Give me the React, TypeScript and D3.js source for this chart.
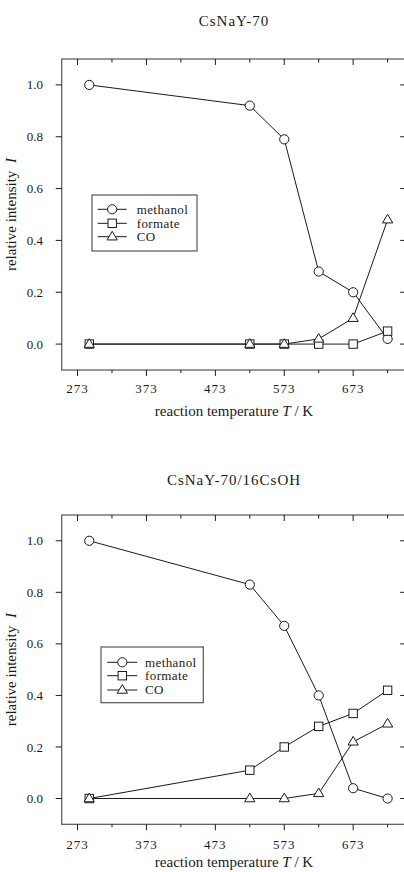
import React from "react";
import * as d3 from "d3";

// Reaction temperatures (K) at which spectra were recorded
const temperatures = [290, 523, 573, 623, 673, 723];

// Panel 1: CsNaY-70
const methanolA = [1.0, 0.92, 0.79, 0.28, 0.2, 0.02];
const formateA = [0, 0, 0, 0, 0, 0.05];
const coA = [0, 0, 0, 0.02, 0.1, 0.48];

// Panel 2: CsNaY-70/16CsOH
const methanolB = [1.0, 0.83, 0.67, 0.4, 0.04, 0.0];
const formateB = [0, 0.11, 0.2, 0.28, 0.33, 0.42];
const coB = [0, 0, 0, 0.02, 0.22, 0.29];

const xMajorTicks = [273, 373, 473, 573, 673];
const xMinorTicks = [323, 423, 523, 623, 723];
const yTicks = [0, 0.2, 0.4, 0.6, 0.8, 1.0];
const seriesNames = ["methanol", "formate", "CO"];

const FONT = "'Liberation Serif', 'DejaVu Serif', serif";
const INK = "#1a1a1a";
const FRAME = "#555";

type Shape = "circle" | "square" | "triangle";
const shapes: Shape[] = ["circle", "square", "triangle"];

function Marker({ shape, x, y }: { shape: Shape; x: number; y: number }) {
  const common = { fill: "#fff", stroke: INK, strokeWidth: 1 };
  if (shape === "circle") return <circle cx={x} cy={y} r={4.6} {...common} />;
  if (shape === "square")
    return <rect x={x - 4.2} y={y - 4.2} width={8.4} height={8.4} {...common} />;
  const s = 5.4;
  const pts = [
    [x, y - s],
    [x - s * 0.95, y + s * 0.6],
    [x + s * 0.95, y + s * 0.6],
  ]
    .map((p) => p.join(","))
    .join(" ");
  return <polygon points={pts} {...common} />;
}

interface PanelProps {
  title: string;
  titleY: number;
  top: number;
  bottom: number;
  series: number[][];
  legend: { x0: number; y0: number; x1: number; y1: number; rows: number[]; lineX0: number; lineX1: number; textX: number };
  tickLabelY: number;
  axisLabelY: number;
}

function Panel({ title, titleY, top, bottom, series, legend, tickLabelY, axisLabelY }: PanelProps) {
  const left = 61.7;
  const right = 406.2;
  const x = d3.scaleLinear().domain([250, 750]).range([left, right]);
  const y = d3.scaleLinear().domain([-0.1, 1.1]).range([bottom, top]);
  const line = d3
    .line<number>()
    .x((_, i) => x(temperatures[i]))
    .y((v) => y(v));
  const midY = (top + bottom) / 2;

  return (
    <g>
      <text
        x={234}
        y={titleY}
        textAnchor="middle"
        fontFamily={FONT}
        fontSize={15}
        letterSpacing={1}
        fill={INK}
      >
        {title}
      </text>

      {/* frame */}
      <rect x={left} y={top} width={right - left} height={bottom - top} fill="none" stroke={FRAME} strokeWidth={1.2} />

      {/* x ticks: outward on bottom, inward on top */}
      {xMajorTicks.map((t) => (
        <g key={"M" + t}>
          <line x1={x(t)} x2={x(t)} y1={bottom} y2={bottom + 6} stroke={INK} />
          <line x1={x(t)} x2={x(t)} y1={top} y2={top + 6} stroke={INK} />
          <text
            x={x(t)}
            y={tickLabelY}
            textAnchor="middle"
            fontFamily={FONT}
            fontSize={13}
            letterSpacing={1}
            fill={INK}
          >
            {t}
          </text>
        </g>
      ))}
      {xMinorTicks.map((t) => (
        <g key={"m" + t}>
          <line x1={x(t)} x2={x(t)} y1={bottom} y2={bottom + 3} stroke={INK} />
          <line x1={x(t)} x2={x(t)} y1={top} y2={top + 3.5} stroke={INK} />
        </g>
      ))}

      {/* y ticks: outward on left, inward on right */}
      {yTicks.map((t) => (
        <g key={"y" + t}>
          <line x1={left - 6} x2={left} y1={y(t)} y2={y(t)} stroke={INK} />
          <line x1={right - 6} x2={right} y1={y(t)} y2={y(t)} stroke={INK} />
          <text
            x={43}
            y={y(t)}
            dy="0.35em"
            textAnchor="end"
            fontFamily={FONT}
            fontSize={13}
            fill={INK}
          >
            {d3.format(".1f")(t)}
          </text>
        </g>
      ))}

      <text
        transform={`translate(16,${midY}) rotate(-90)`}
        textAnchor="middle"
        fontFamily={FONT}
        fontSize={15}
        fill={INK}
      >
        relative intensity{"  "}
        <tspan fontStyle="italic" dx={4}>I</tspan>
      </text>

      <text x={234} y={axisLabelY} textAnchor="middle" fontFamily={FONT} fontSize={15} fill={INK}>
        reaction temperature <tspan fontStyle="italic">T</tspan> / K
      </text>

      {/* series */}
      {series.map((s, si) => (
        <path key={"l" + si} d={line(s) || ""} fill="none" stroke={INK} strokeWidth={1} />
      ))}
      {series.map((s, si) =>
        s.map((v, i) => <Marker key={`p${si}-${i}`} shape={shapes[si]} x={x(temperatures[i])} y={y(v)} />)
      )}

      {/* legend */}
      <rect
        x={legend.x0}
        y={legend.y0}
        width={legend.x1 - legend.x0}
        height={legend.y1 - legend.y0}
        fill="#fff"
        stroke={FRAME}
        strokeWidth={1.2}
      />
      {seriesNames.map((name, i) => {
        const ry = legend.rows[i];
        const mx = (legend.lineX0 + legend.lineX1) / 2;
        return (
          <g key={name}>
            <line x1={legend.lineX0} x2={legend.lineX1} y1={ry} y2={ry} stroke={INK} />
            <Marker shape={shapes[i]} x={mx} y={ry} />
            <text
              x={legend.textX}
              y={ry}
              dy="0.33em"
              fontFamily={FONT}
              fontSize={13}
              letterSpacing={0.4}
              fill={INK}
            >
              {name}
            </text>
          </g>
        );
      })}
    </g>
  );
}

export default function App() {
  return (
    <svg
      width={404}
      height={872}
      style={{ position: "absolute", left: 0, top: 0, display: "block", background: "#fff" }}
    >
      <rect width={404} height={872} fill="#fff" />
      <Panel
        title="CsNaY-70"
        titleY={26}
        top={59}
        bottom={370}
        series={[methanolA, formateA, coA]}
        legend={{ x0: 92, y0: 195, x1: 197, y1: 251, rows: [209.3, 223.3, 236.7], lineX0: 97.7, lineX1: 126.7, textX: 136.7 }}
        tickLabelY={393}
        axisLabelY={416}
      />
      <Panel
        title="CsNaY-70/16CsOH"
        titleY={485}
        top={515}
        bottom={824.3}
        series={[methanolB, formateB, coB]}
        legend={{ x0: 101, y0: 647, x1: 203.3, y1: 702.7, rows: [662.3, 675.7, 690], lineX0: 107.3, lineX1: 137.3, textX: 145 }}
        tickLabelY={849}
        axisLabelY={867}
      />
    </svg>
  );
}
